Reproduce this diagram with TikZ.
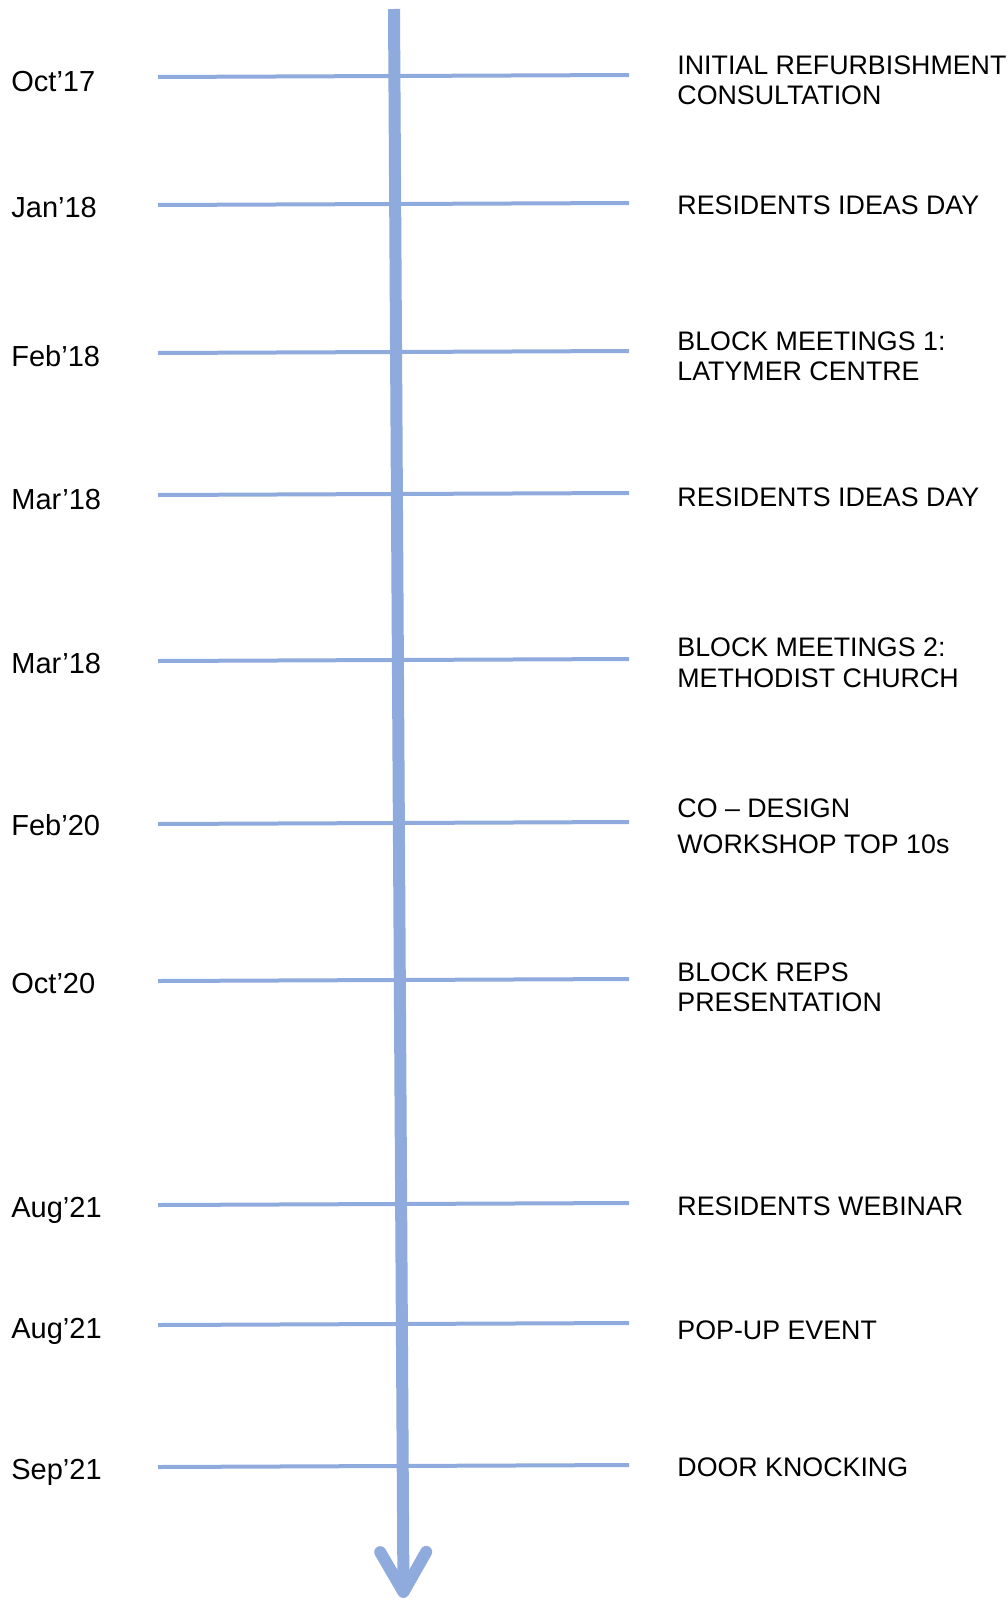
\documentclass[tikz,border=0pt]{standalone}
\usepackage{fontspec}
\setmainfont{Liberation Sans}
\usetikzlibrary{arrows.meta}
\definecolor{axisblue}{HTML}{8FAADC}

\begin{document}
\begin{tikzpicture}[x=0.5pt, y=-0.5pt,
    date/.style={anchor=north west, inner sep=0pt, font=\fontsize{14.5}{16}\selectfont},
    event/.style={anchor=north west, inner sep=0pt, align=left, font=\fontsize{13.4}{15.3}\selectfont},
    tick/.style={draw=axisblue, line width=2pt},
    axis/.style={draw=axisblue, line width=6pt, -{Straight Barb[length=20pt, width=23pt, round]}}]
    \useasboundingbox (0,0) rectangle (1007,1600);

    % dates
    \node[date] (d1) at (11,71) {Oct’17};
    \node[date] (d2) at (11,197) {Jan’18};
    \node[date] (d3) at (11,345) {Feb’18};
    \node[date] (d4) at (11,489) {Mar’18};
    \node[date] (d5) at (11,653) {Mar’18};
    \node[date] (d6) at (11,814) {Feb’20};
    \node[date] (d7) at (11,973) {Oct’20};
    \node[date] (d8) at (11,1197) {Aug’21};
    \node[date] (d9) at (11,1318) {Aug’21};
    \node[date] (d10) at (11,1459) {Sep’21};

    % events
    \node[event] (e1) at (677,55) {INITIAL REFURBISHMENT\\CONSULTATION};
    \node[event] (e2) at (677,195.5) {RESIDENTS IDEAS DAY};
    \node[event] (e3) at (677,331) {BLOCK MEETINGS 1:\\LATYMER CENTRE};
    \node[event] (e4) at (677,487.5) {RESIDENTS IDEAS DAY};
    \node[event] (e5) at (677,637.5) {BLOCK MEETINGS 2:\\METHODIST CHURCH};
    \node[event] (e6) at (677,798.5) {CO – DESIGN\\[2.7pt]WORKSHOP TOP 10s};
    \node[event] (e7) at (677,962) {BLOCK REPS\\PRESENTATION};
    \node[event] (e8) at (677,1196.5) {RESIDENTS WEBINAR};
    \node[event] (e9) at (677,1320) {POP-UP EVENT};
    \node[event] (e10) at (677,1457.5) {DOOR KNOCKING};

    % ticks
    \coordinate (l1) at (158,77);    \coordinate (r1) at (629,75);
    \coordinate (l2) at (158,205);   \coordinate (r2) at (629,203);
    \coordinate (l3) at (158,353);   \coordinate (r3) at (629,351);
    \coordinate (l4) at (158,495);   \coordinate (r4) at (629,493);
    \coordinate (l5) at (158,661);   \coordinate (r5) at (629,659);
    \coordinate (l6) at (158,824);   \coordinate (r6) at (629,822);
    \coordinate (l7) at (158,981);   \coordinate (r7) at (629,979);
    \coordinate (l8) at (158,1205);  \coordinate (r8) at (629,1203);
    \coordinate (l9) at (158,1325);  \coordinate (r9) at (629,1323);
    \coordinate (l10) at (158,1467); \coordinate (r10) at (629,1465);

    \path[tick]
    (l1) edge (r1)
    (l2) edge (r2)
    (l3) edge (r3)
    (l4) edge (r4)
    (l5) edge (r5)
    (l6) edge (r6)
    (l7) edge (r7)
    (l8) edge (r8)
    (l9) edge (r9)
    (l10) edge (r10)
    ;

    % time axis
    \coordinate (start) at (394,9);
    \coordinate (tip) at (403.5,1598);
    \draw[axis] (start) -- (tip);
\end{tikzpicture}
\end{document}
